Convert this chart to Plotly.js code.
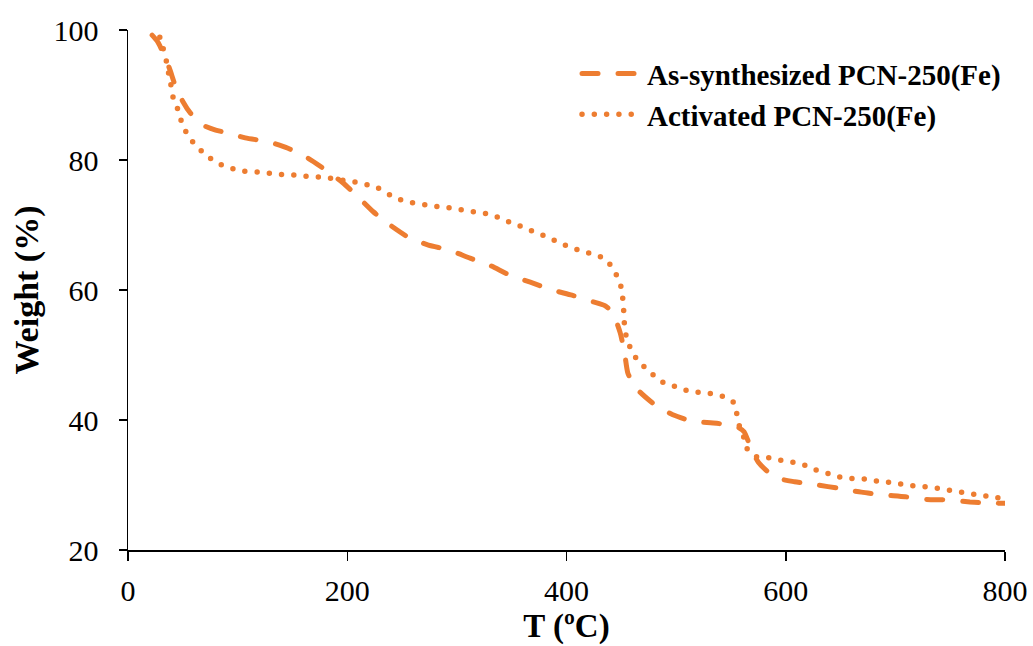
<!DOCTYPE html>
<html>
<head>
<meta charset="utf-8">
<script src="https://cdn.plot.ly/plotly-3.0.1.min.js"></script>
<style>
html,body{margin:0;padding:0;background:#fff;}
#chart{width:1033px;height:646px;}
.js-line{stroke-linecap:round !important;}
.legendlines path{stroke-linecap:round !important;}
</style>
</head>
<body>
<div id="chart"></div>
<script>
// As-synthesized PCN-250(Fe) (dashed)
const asSynT = [22, 27, 32, 38, 43, 50, 57, 68, 80, 90, 107, 128, 146, 164, 180, 196, 210, 224, 239, 255, 274, 292, 312, 330, 348, 367, 387, 405, 424, 435, 442, 449, 453, 456, 462, 467, 481, 497, 515, 537, 556, 562, 567, 575, 590, 608, 629, 648, 669, 688, 709, 727, 748, 768, 788, 800];
const asSynW = [99.2, 98.2, 96.5, 94, 91.5, 89, 87.2, 85.4, 84.6, 84.2, 83.4, 82.8, 81.8, 80.3, 78.5, 76.5, 74.3, 72, 70, 68.2, 66.9, 66.2, 64.9, 63.8, 62.3, 61.2, 60, 59.2, 58.2, 57.6, 56.5, 53.4, 50.3, 47.2, 45.3, 44.3, 42.3, 40.8, 39.8, 39.5, 38.9, 38.2, 36.2, 33.5, 31.2, 30.5, 30, 29.5, 28.9, 28.5, 28.2, 27.8, 27.7, 27.4, 27.2, 27.2];

// Activated PCN-250(Fe) (dotted)
const actT = [29, 32, 35, 37, 39, 41, 45, 48, 52, 58, 65, 73, 82, 93, 105, 116, 127, 139, 150, 161, 173, 184, 196, 207, 218, 228, 240, 250, 260, 272, 283, 295, 306, 317, 328, 339, 350, 360, 371, 382, 392, 403, 414, 424, 435, 442, 447, 450.6, 451.5, 452.4, 453, 455, 459, 464, 472, 480, 489, 500, 511, 523, 534, 545, 553, 555.5, 558, 562, 565, 574, 585, 596, 607, 618, 628, 640, 650, 661, 673, 684, 696, 707, 719, 730, 742, 753, 764, 775, 786, 800];
const actW = [98.9, 97.2, 95.2, 93.4, 91.7, 89.7, 88, 86.3, 84.6, 83, 81.7, 80.5, 79.5, 78.8, 78.3, 78.2, 78, 77.8, 77.7, 77.5, 77.4, 77.2, 76.9, 76.6, 76.2, 75.7, 74.5, 73.8, 73.4, 73.1, 72.8, 72.6, 72.3, 72, 71.7, 71.1, 70.3, 69.7, 68.9, 68.2, 67.4, 66.6, 66, 65.5, 64.8, 63.4, 61.8, 60, 58.2, 56.3, 54.3, 52.5, 50.8, 49.4, 48, 46.8, 45.7, 45.1, 44.5, 44.2, 44, 43.5, 42.6, 40.8, 38.9, 37.2, 35.5, 34.3, 34.2, 33.8, 33.5, 33, 32.3, 31.7, 31.2, 31, 30.9, 30.6, 30.4, 30.1, 29.8, 29.7, 29.4, 29.1, 28.8, 28.5, 28.2, 27.9];

const seriesNames = ['As-synthesized PCN-250(Fe)', 'Activated PCN-250(Fe)'];
const xTicks = [0, 200, 400, 600, 800];
const yTicks = [20, 40, 60, 80, 100];

const color = '#ED7D31';
const serif = 'Liberation Serif, Times New Roman, serif';

const traces = [
  {x: asSynT, y: asSynW, name: seriesNames[0], mode: 'lines',
   line: {color: color, width: 5, dash: '16px,20px', shape: 'spline', smoothing: 0.6}},
  {x: actT, y: actW, name: seriesNames[1], mode: 'lines',
   line: {color: color, width: 5.5, dash: '0px,12.3px', shape: 'spline', smoothing: 0.6}}
];

const layout = {
  width: 1033, height: 646,
  margin: {l: 128, r: 28, t: 30, b: 96},
  paper_bgcolor: '#fff', plot_bgcolor: '#fff',
  showlegend: true,
  legend: {x: 0.512, y: 0.965, xanchor: 'left', yanchor: 'top',
    font: {family: serif, size: 29, color: '#000', weight: 'bold'},
    bgcolor: 'rgba(0,0,0,0)', itemwidth: 60},
  xaxis: {
    range: [0, 800], tickvals: xTicks, ticktext: xTicks.map(String),
    showgrid: false, zeroline: false, showline: true, linecolor: '#000', linewidth: 1.5,
    ticks: 'outside', ticklen: 9, tickwidth: 1.5, tickcolor: '#000',
    ticklabelstandoff: 4,
    tickfont: {family: serif, size: 30, color: '#000'},
    title: {text: 'T (ºC)', font: {family: serif, size: 33, color: '#000', weight: 'bold'}, standoff: 8}
  },
  yaxis: {
    range: [20, 100], tickvals: yTicks, ticktext: yTicks.map(String),
    showgrid: false, zeroline: false, showline: true, linecolor: '#000', linewidth: 1.5,
    ticks: 'outside', ticklen: 8, tickwidth: 1.5, tickcolor: '#000',
    ticklabelstandoff: 14,
    tickfont: {family: serif, size: 30, color: '#000'},
    title: {text: 'Weight (%)', font: {family: serif, size: 34, color: '#000', weight: 'bold'}, standoff: 4}
  }
};

Plotly.newPlot('chart', traces, layout, {displayModeBar: false, staticPlot: true});
</script>
</body>
</html>
